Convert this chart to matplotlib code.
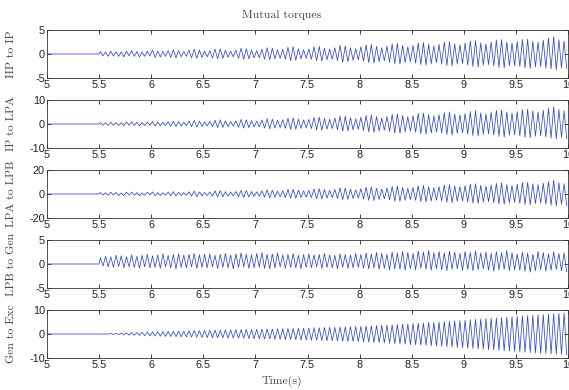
import numpy as np
import matplotlib
matplotlib.use("Agg")
import matplotlib.pyplot as plt

plt.rcParams["axes.unicode_minus"] = False

# time window and onset of each disturbance
t_begin, t_end = 5.0, 10.0
onsets = [5.5, 5.5, 5.5, 5.5, 5.6]

titles = ["HP to IP", "IP to LPA", "LPA to LPB", "LPB to Gen", "Gen to Exc"]
y_limits = [(-5, 5), (-10, 10), (-20, 20), (-5, 5), (-10, 10)]
x_ticks = [5, 5.5, 6, 6.5, 7, 7.5, 8, 8.5, 9, 9.5, 10]
x_tick_labels = ["5", "5.5", "6", "6.5", "7", "7.5", "8", "8.5", "9", "9.5", "10"]

# peak / trough of each oscillation cycle
hp_ip_hi = [0.5, 0.4, 0.6, 0.5, 0.4, 0.6, 0.7, 0.5, 0.4, 0.6, 0.8, 0.6, 0.5, 0.7, 0.9, 0.7, 0.5, 0.8, 1.0, 0.8,
            0.6, 0.7, 1.0, 1.1, 0.8, 0.6, 0.8, 1.2, 1.1, 0.8, 0.7, 1.0, 1.3, 1.2, 0.9, 1.0, 1.4, 1.5, 1.1, 0.9,
            1.0, 1.5, 1.6, 1.2, 1.0, 1.3, 1.8, 1.7, 1.3, 1.1, 1.5, 1.9, 2.0, 1.6, 1.3, 1.6, 2.1, 2.2, 1.8, 1.5,
            1.8, 2.3, 2.4, 2.0, 1.7, 2.0, 2.5, 2.6, 2.1, 1.9, 2.3, 2.7, 2.8, 2.3, 2.1, 2.5, 2.9, 3.0, 2.5, 2.3,
            2.6, 3.0, 3.1, 2.7, 2.5, 2.9, 3.3, 3.6, 3.0, 2.7]
hp_ip_lo = [-0.4, -0.5, -0.4, -0.5, -0.6, -0.4, -0.5, -0.6, -0.5, -0.4, -0.7, -0.6, -0.5, -0.7, -0.8, -0.6, -0.5, -0.8, -0.9, -0.7,
            -0.6, -0.8, -1.0, -0.9, -0.7, -0.6, -0.9, -1.1, -1.0, -0.8, -0.8, -1.1, -1.2, -1.0, -0.9, -1.1, -1.4, -1.3, -1.0, -0.9,
            -1.1, -1.4, -1.5, -1.2, -1.1, -1.4, -1.7, -1.6, -1.3, -1.2, -1.5, -1.8, -1.9, -1.6, -1.4, -1.7, -2.0, -2.1, -1.8, -1.6,
            -1.9, -2.2, -2.3, -2.0, -1.8, -2.1, -2.4, -2.5, -2.1, -2.0, -2.3, -2.6, -2.7, -2.3, -2.2, -2.5, -2.8, -2.9, -2.5, -2.4,
            -2.6, -2.9, -3.0, -2.7, -2.6, -2.9, -3.1, -3.3, -2.9, -3.0]

ip_lpa_hi = [0.6, 0.5, 0.7, 0.6, 0.5, 0.8, 0.9, 0.7, 0.6, 0.8, 1.0, 0.8, 0.7, 1.0, 1.2, 1.0, 0.8, 1.2, 1.5, 1.2,
             0.9, 1.1, 1.6, 1.7, 1.3, 1.0, 1.3, 1.9, 1.8, 1.4, 1.2, 1.7, 2.2, 2.0, 1.6, 1.8, 2.4, 2.6, 2.0, 1.7,
             1.9, 2.7, 2.9, 2.3, 2.0, 2.5, 3.3, 3.2, 2.6, 2.2, 2.8, 3.6, 3.8, 3.1, 2.6, 3.2, 4.0, 4.2, 3.5, 3.0,
             3.5, 4.4, 4.6, 3.9, 3.4, 3.9, 4.8, 5.0, 4.2, 3.8, 4.4, 5.2, 5.5, 4.6, 4.2, 4.9, 5.7, 5.9, 5.0, 4.6,
             5.2, 6.0, 6.2, 5.4, 5.0, 5.7, 6.5, 7.2, 6.0, 5.5]
ip_lpa_lo = [-0.5, -0.6, -0.5, -0.6, -0.7, -0.5, -0.6, -0.8, -0.6, -0.5, -0.9, -0.7, -0.6, -0.9, -1.1, -0.8, -0.7, -1.1, -1.3, -1.0,
             -0.8, -1.1, -1.5, -1.4, -1.1, -0.9, -1.4, -1.7, -1.5, -1.2, -1.2, -1.7, -2.0, -1.7, -1.5, -1.8, -2.3, -2.2, -1.8, -1.6,
             -1.9, -2.5, -2.6, -2.1, -1.9, -2.4, -3.0, -2.9, -2.4, -2.2, -2.7, -3.3, -3.5, -2.9, -2.6, -3.1, -3.7, -3.9, -3.3, -3.0,
             -3.4, -4.0, -4.2, -3.7, -3.3, -3.8, -4.4, -4.6, -3.9, -3.7, -4.2, -4.8, -5.0, -4.3, -4.1, -4.6, -5.2, -5.4, -4.7, -4.5,
             -4.9, -5.5, -5.7, -5.0, -4.9, -5.4, -5.9, -6.2, -5.5, -6.0]

lpa_lpb_hi = [1.2, 1.0, 1.5, 1.3, 0.8, 1.4, 1.6, 1.1, 0.9, 1.5, 1.7, 1.2, 1.0, 1.6, 2.0, 1.5, 1.1, 1.9, 2.4, 1.8,
              1.3, 1.7, 2.6, 2.8, 2.0, 1.5, 2.1, 3.0, 2.9, 2.1, 1.8, 2.7, 3.4, 3.1, 2.4, 2.8, 3.8, 4.0, 3.1, 2.6,
              3.0, 4.2, 4.5, 3.6, 3.1, 3.9, 5.1, 5.0, 4.0, 3.5, 4.4, 5.6, 5.9, 4.8, 4.1, 5.0, 6.3, 6.6, 5.5, 4.7,
              5.5, 6.9, 7.2, 6.1, 5.3, 6.1, 7.5, 7.8, 6.6, 6.0, 6.9, 8.2, 8.6, 7.2, 6.6, 7.6, 8.9, 9.3, 7.8, 7.2,
              8.2, 9.4, 9.8, 8.5, 7.8, 8.9, 10.2, 11.5, 9.4, 8.6]
lpa_lpb_lo = [-0.9, -1.1, -0.8, -1.2, -1.3, -0.9, -1.1, -1.4, -1.0, -0.8, -1.5, -1.2, -1.0, -1.5, -1.8, -1.3, -1.1, -1.8, -2.1, -1.6,
              -1.3, -1.8, -2.4, -2.3, -1.8, -1.5, -2.2, -2.8, -2.5, -2.0, -1.9, -2.7, -3.2, -2.8, -2.4, -2.9, -3.6, -3.5, -2.9, -2.6,
              -3.0, -3.9, -4.1, -3.4, -3.1, -3.8, -4.7, -4.6, -3.8, -3.5, -4.2, -5.2, -5.5, -4.6, -4.1, -4.9, -5.8, -6.1, -5.2, -4.7,
              -5.3, -6.3, -6.6, -5.8, -5.2, -5.9, -6.9, -7.2, -6.1, -5.8, -6.6, -7.5, -7.9, -6.8, -6.4, -7.2, -8.2, -8.5, -7.4, -7.0,
              -7.7, -8.7, -9.0, -7.9, -7.6, -8.4, -9.3, -9.8, -8.7, -9.5]

lpb_gen_hi = [1.3, 1.6, 1.5, 1.8, 1.7, 1.5, 1.9, 1.6, 1.8, 2.0, 1.7, 1.9, 2.1, 1.8, 2.0, 2.1, 1.9, 2.0, 2.2, 1.9,
              2.0, 2.1, 1.8, 2.0, 2.2, 1.9, 2.1, 2.3, 2.0, 1.9, 2.2, 2.4, 2.0, 2.1, 2.3, 1.9, 2.0, 2.2, 1.8, 2.0,
              2.1, 1.9, 2.0, 2.2, 1.9, 1.8, 2.1, 2.0, 1.9, 2.2, 2.0, 2.3, 2.1, 2.4, 2.2, 2.0, 2.5, 2.3, 2.6, 2.4,
              2.2, 2.7, 2.5, 2.8, 2.4, 2.6, 2.3, 2.7, 2.5, 2.2, 2.6, 2.4, 2.7, 2.3, 2.5, 2.2, 2.6, 2.4, 2.8, 2.3,
              2.1, 2.5, 2.3, 2.0, 2.6, 2.4, 2.1, 2.5, 2.2, 2.3]
lpb_gen_lo = [-0.4, -0.6, -0.7, -0.5, -0.8, -0.6, -0.7, -0.9, -0.6, -0.8, -0.7, -0.9, -0.6, -0.8, -1.0, -0.7, -0.8, -0.6, -0.9, -0.7,
              -0.8, -0.6, -0.9, -0.7, -0.8, -1.0, -0.7, -0.6, -0.9, -0.8, -0.7, -0.9, -1.0, -0.8, -0.6, -0.9, -0.7, -0.8, -1.0, -0.7,
              -0.8, -0.6, -0.9, -0.7, -0.8, -1.0, -0.7, -0.9, -0.8, -0.7, -0.9, -1.0, -0.8, -1.1, -0.9, -1.2, -1.0, -1.1, -1.3, -1.0,
              -1.2, -0.9, -1.1, -1.3, -1.0, -1.2, -1.4, -1.1, -1.0, -1.3, -1.1, -1.4, -1.2, -1.0, -1.3, -1.5, -1.2, -1.1, -1.4, -1.2,
              -1.3, -1.5, -1.7, -1.4, -1.2, -1.5, -1.3, -1.1, -1.4, -1.6]

gen_exc_hi = [0.2, 0.3, 0.4, 0.5, 0.6, 0.6, 0.7, 0.8, 0.9, 0.9, 1.0, 1.1, 1.1, 1.2, 1.2, 1.3, 1.4, 1.4, 1.5, 1.5,
              1.6, 1.6, 1.7, 1.7, 1.8, 1.8, 1.9, 1.9, 2.0, 2.0, 2.1, 2.1, 2.2, 2.2, 2.3, 2.3, 2.4, 2.4, 2.5, 2.6,
              2.6, 2.7, 2.8, 2.8, 2.9, 3.0, 3.1, 3.1, 3.2, 3.3, 3.4, 3.5, 3.6, 3.7, 3.8, 4.0, 4.1, 4.2, 4.4, 4.5,
              4.6, 4.8, 4.9, 5.0, 5.2, 5.3, 5.5, 5.6, 5.8, 5.9, 6.1, 6.2, 6.4, 6.6, 6.7, 6.9, 7.0, 7.2, 7.4, 7.5,
              7.7, 7.8, 8.0, 8.1, 8.3, 8.4, 8.6, 8.7]
gen_exc_lo = [-0.2, -0.3, -0.4, -0.5, -0.5, -0.6, -0.7, -0.8, -0.8, -0.9, -1.0, -1.0, -1.1, -1.2, -1.2, -1.3, -1.3, -1.4, -1.5, -1.5,
              -1.6, -1.6, -1.7, -1.7, -1.8, -1.8, -1.9, -2.0, -2.0, -2.1, -2.1, -2.2, -2.2, -2.3, -2.3, -2.4, -2.5, -2.5, -2.6, -2.6,
              -2.7, -2.8, -2.8, -2.9, -3.0, -3.1, -3.1, -3.2, -3.3, -3.4, -3.5, -3.6, -3.7, -3.8, -4.0, -4.1, -4.2, -4.4, -4.5, -4.6,
              -4.7, -4.9, -5.0, -5.1, -5.3, -5.4, -5.6, -5.7, -5.9, -6.0, -6.2, -6.3, -6.5, -6.6, -6.8, -7.0, -7.1, -7.3, -7.4, -7.6,
              -7.7, -7.9, -8.0, -8.1, -8.3, -8.4, -8.5, -8.6]

series = [(hp_ip_hi, hp_ip_lo), (ip_lpa_hi, ip_lpa_lo), (lpa_lpb_hi, lpa_lpb_lo),
          (lpb_gen_hi, lpb_gen_lo), (gen_exc_hi, gen_exc_lo)]


def build_trace(onset, hi, lo):
    # alternate peaks and troughs, evenly spaced between onset and end
    n = min(len(hi), len(lo))
    extremes = np.empty(2 * n)
    extremes[0::2] = hi[:n]
    extremes[1::2] = lo[:n]
    t_ext = onset + (np.arange(2 * n) + 0.5) / (2 * n) * (t_end - onset)
    t = np.concatenate([[t_begin, onset], t_ext])
    y = np.concatenate([[0.0, 0.0], extremes])
    return t, y


W, H = 569, 390
fig = plt.figure(figsize=(W / 100, H / 100), dpi=100)

serif = "cmr10"
text_color = "#474747"
ax_left, ax_right = 47, 568
tops = [30, 100, 170, 240, 310]
ax_h = 48

for i, (name, (hi, lo)) in enumerate(zip(titles, series)):
    top = tops[i]
    ax = fig.add_axes([ax_left / W, 1 - (top + ax_h) / H, (ax_right - ax_left) / W, ax_h / H])
    t, y = build_trace(onsets[i], hi, lo)
    ax.plot(t, y, color="#3448c8", linewidth=0.55)
    ax.set_xlim(t_begin, t_end)
    ax.set_ylim(*y_limits[i])
    lo_lim, hi_lim = y_limits[i]
    ax.set_yticks([lo_lim, 0, hi_lim])
    ax.set_xticks(x_ticks)
    ax.set_xticklabels(x_tick_labels)
    ax.tick_params(direction="in", length=3, width=0.6, top=True, right=True,
                   labelsize=7.8, pad=1.5, colors="#222222")
    for lab in ax.get_xticklabels() + ax.get_yticklabels():
        lab.set_family("Liberation Sans")
    for sp in ax.spines.values():
        sp.set_linewidth(0.6)
        sp.set_color("#333333")
    ax.set_ylabel(name, family=serif, fontsize=8.5, color=text_color)
    ax.yaxis.set_label_coords(-(ax_left - 16) / (ax_right - ax_left), 0.5)

fig.text(282 / W, 1 - 15 / H, "Mutual torques", family=serif, fontsize=8.5,
         color=text_color, ha="center", va="center")
fig.text(282 / W, 1 - 381 / H, "Time(s)", family=serif, fontsize=8.5,
         color=text_color, ha="center", va="center")

fig.savefig("out.png", dpi=100)
